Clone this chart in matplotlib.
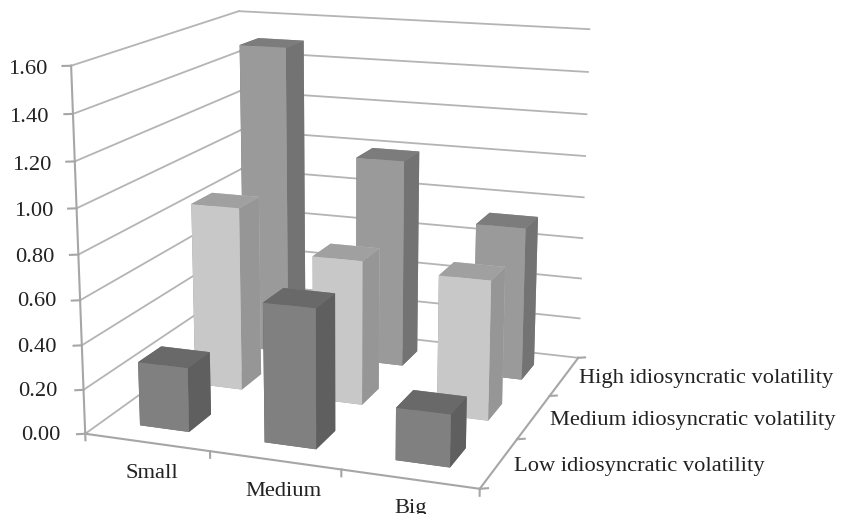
import numpy as np
import matplotlib
matplotlib.use('Agg')
import matplotlib.pyplot as plt

# Data
sizes = ['Small', 'Medium', 'Big']
vol_labels = ['Low idiosyncratic volatility', 'Medium idiosyncratic volatility', 'High idiosyncratic volatility']
low_vol = [0.29, 0.62, 0.23]
medium_vol = [0.86, 0.67, 0.64]
high_vol = [1.50, 1.00, 0.73]
z_ticks = [0.00, 0.20, 0.40, 0.60, 0.80, 1.00, 1.20, 1.40, 1.60]

# front, top and side colours per series
front_cols = ['#808080', '#c8c8c8', '#9a9a9a']
top_cols = ['#696969', '#a0a0a0', '#7c7c7c']
side_cols = ['#5f5f5f', '#969696', '#737373']

W, H = 842, 514
plt.rcParams['font.family'] = ['Liberation Serif', 'DejaVu Serif']

fig = plt.figure(figsize=(W / 100, H / 100), dpi=100)
ax = fig.add_axes([0.2, 0.0, H / W, 1.0], projection='3d')
ax.set_xlim(0, 3)
ax.set_ylim(0, 3)
ax.set_zlim(0, 1.6)
ax.set_proj_type('persp', focal_length=1)
ax.set_box_aspect((1, 0.979, 0.908), zoom=1.899)
ax.view_init(14.529, -69.919)
ax.set_axis_off()
ax.computed_zorder = False

# Place the axes so the projected plane lands at the right pixels
scale, tx, ty = 1819.83, 346.3, 224.22
(x0, y0), (x1, y1) = ax.transLimits.inverted().transform([(0, 0), (1, 1)])
ax.set_position([(tx + scale * x0) / W, (H - ty + scale * y0) / H,
                 scale * (x1 - x0) / W, scale * (y1 - y0) / H])
ax.patch.set_visible(False)

grid_col = '#b4b4b4'
axis_col = '#a6a6a6'

# Wall gridlines
for z in z_ticks:
    ax.plot([0, 0], [0, 3], [z, z], color=grid_col, lw=1.3, zorder=1, clip_on=False)
    ax.plot([0, 3], [3, 3], [z, z], color=grid_col, lw=1.3, zorder=1, clip_on=False)
    ax.plot([-0.052, 0], [-0.029, 0], [z, z], color=axis_col, lw=1.5, zorder=2, clip_on=False)

# Axis lines and ticks
ax.plot([0, 0], [0, 0], [0, 1.6], color=axis_col, lw=1.5, zorder=2, clip_on=False)
ax.plot([0, 3], [0, 0], [0, 0], color=axis_col, lw=1.5, zorder=2, clip_on=False)
ax.plot([3, 3], [0, 3], [0, 0], color=axis_col, lw=1.5, zorder=2, clip_on=False)
for x in range(4):
    ax.plot([x, x], [0, 0], [0, -0.03], color=axis_col, lw=1.5, zorder=2, clip_on=False)
for y in range(4):
    ax.plot([3, 3.05], [y, y + 0.03], [0, 0], color=axis_col, lw=1.5, zorder=2, clip_on=False)

# Bars, back row first
bar_w = 0.4
series = [low_vol, medium_vol, high_vol]
for row in [2, 1, 0]:
    for col in range(3):
        colors = [top_cols[row], top_cols[row], front_cols[row], front_cols[row],
                  side_cols[row], side_cols[row]]
        bars = ax.bar3d(col + 0.5 - bar_w / 2, row + 0.5 - bar_w / 2, 0, bar_w, bar_w, series[row][col],
                        color=colors, shade=False, linewidth=0, zorder=10 + (2 - row) * 3 + col)
        bars.set_clip_on(False)

# Labels
txt_col = '#222222'
z_label_x = [60, 58, 57, 56, 54, 53, 51, 49, 47]
z_label_y = [435, 391, 347, 302, 257, 211, 165, 117, 70]
for val, lx, ly in zip(z_ticks, z_label_x, z_label_y):
    fig.text(lx / W, 1 - ly / H, '%.2f' % val, ha='right', va='center', fontsize=16.2, color=txt_col)

x_label_x = [152, 283, 411]
x_label_y = [473, 492, 508]
for name, lx, ly in zip(sizes, x_label_x, x_label_y):
    fig.text(lx / W, 1 - ly / H, name, ha='center', va='center', fontsize=16.2, color=txt_col)

y_label_x = [514, 550, 579]
y_label_y = [466, 421, 378]
for name, lx, ly in zip(vol_labels, y_label_x, y_label_y):
    fig.text(lx / W, 1 - ly / H, name, ha='left', va='center', fontsize=16.2, color=txt_col)

fig.savefig('out.png', dpi=100)
